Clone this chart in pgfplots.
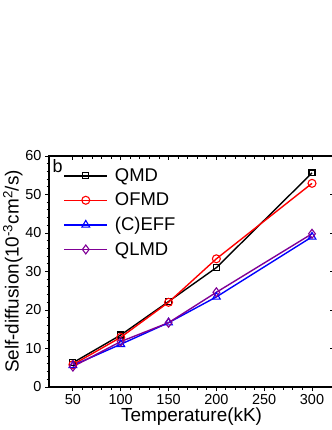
\documentclass[border=0pt]{standalone}
\usepackage{fontspec}
\setmainfont{Liberation Sans}
\usepackage{pgfplots}
\pgfplotsset{compat=1.18}
\definecolor{qlmd}{RGB}{128,0,150}
\begin{document}
\begin{tikzpicture}
\useasboundingbox (0,0) rectangle (332bp,430bp);
\pgfplotsset{
  common/.style={
    at={(49bp,43bp)}, anchor=south west,
    scale only axis, width=285bp, height=231bp,
    xmin=25, xmax=323, ymin=0, ymax=60,
    xtick={50,100,150,200,250,300}, ytick={0,10,20,30,40,50,60},
    minor x tick num=4, minor y tick num=4,
    major tick length=4bp, minor tick length=2.5bp,
    every tick/.style={black, line width=1pt},
    minor tick style={line width=0.9pt},
    axis line style={line width=1.2pt},
  }
}
\begin{axis}[common,
  xtick pos=left, ytick pos=left, tick align=outside,
  /pgf/number format/assume math mode=true,
  tick label style={font=\fontsize{14.5}{16}\selectfont},
  xlabel={Temperature(kK)}, ylabel={Self-diffusion(10\textsuperscript{-3}cm\textsuperscript{2}/s)},
  label style={font=\fontsize{19}{21}\selectfont},
  xlabel style={yshift=4bp},
  ylabel style={yshift=-4bp},
  legend style={draw=none, fill=none, at={(0.04,0.963)}, anchor=north west,
    font=\fontsize{18.5}{20}\selectfont, row sep=6bp},
  legend cell align=left,
  legend image code/.code={\draw[mark repeat=2,mark phase=2,#1] plot coordinates {(0bp,0bp) (21.5bp,0bp) (43bp,0bp)}; \path (48bp,0bp);},
  every axis plot/.append style={line width=1.4pt, mark options={solid, fill=white, line width=1.1pt}},
]
\addplot[black, mark=square, mark size=3] coordinates {(50,6.3) (100,13.5) (150,22.2) (200,31.0) (300,55.6)};
\addlegendentry{QMD}
\addplot[red, mark=o, mark size=4] coordinates {(50,5.8) (100,12.9) (150,22.0) (200,33.3) (300,52.9)};
\addlegendentry{OFMD}
\addplot[blue, mark=triangle, mark size=4.5] coordinates {(50,5.6) (100,11.1) (150,16.7) (200,23.4) (300,39.0)};
\addlegendentry{(C)EFF}
\addplot[qlmd, mark=diamond, mark size=4.5] coordinates {(50,5.3) (100,11.8) (150,16.7) (200,24.6) (300,39.8)};
\addlegendentry{QLMD}
\node[anchor=north west, font=\fontsize{18}{20}\selectfont, inner sep=0pt] at (rel axis cs:0.012,0.985) {b};
\end{axis}
\begin{axis}[common,
  xtick pos=right, ytick pos=right, tick align=inside,
  xticklabels={}, yticklabels={},
]
\end{axis}
\end{tikzpicture}
\end{document}
